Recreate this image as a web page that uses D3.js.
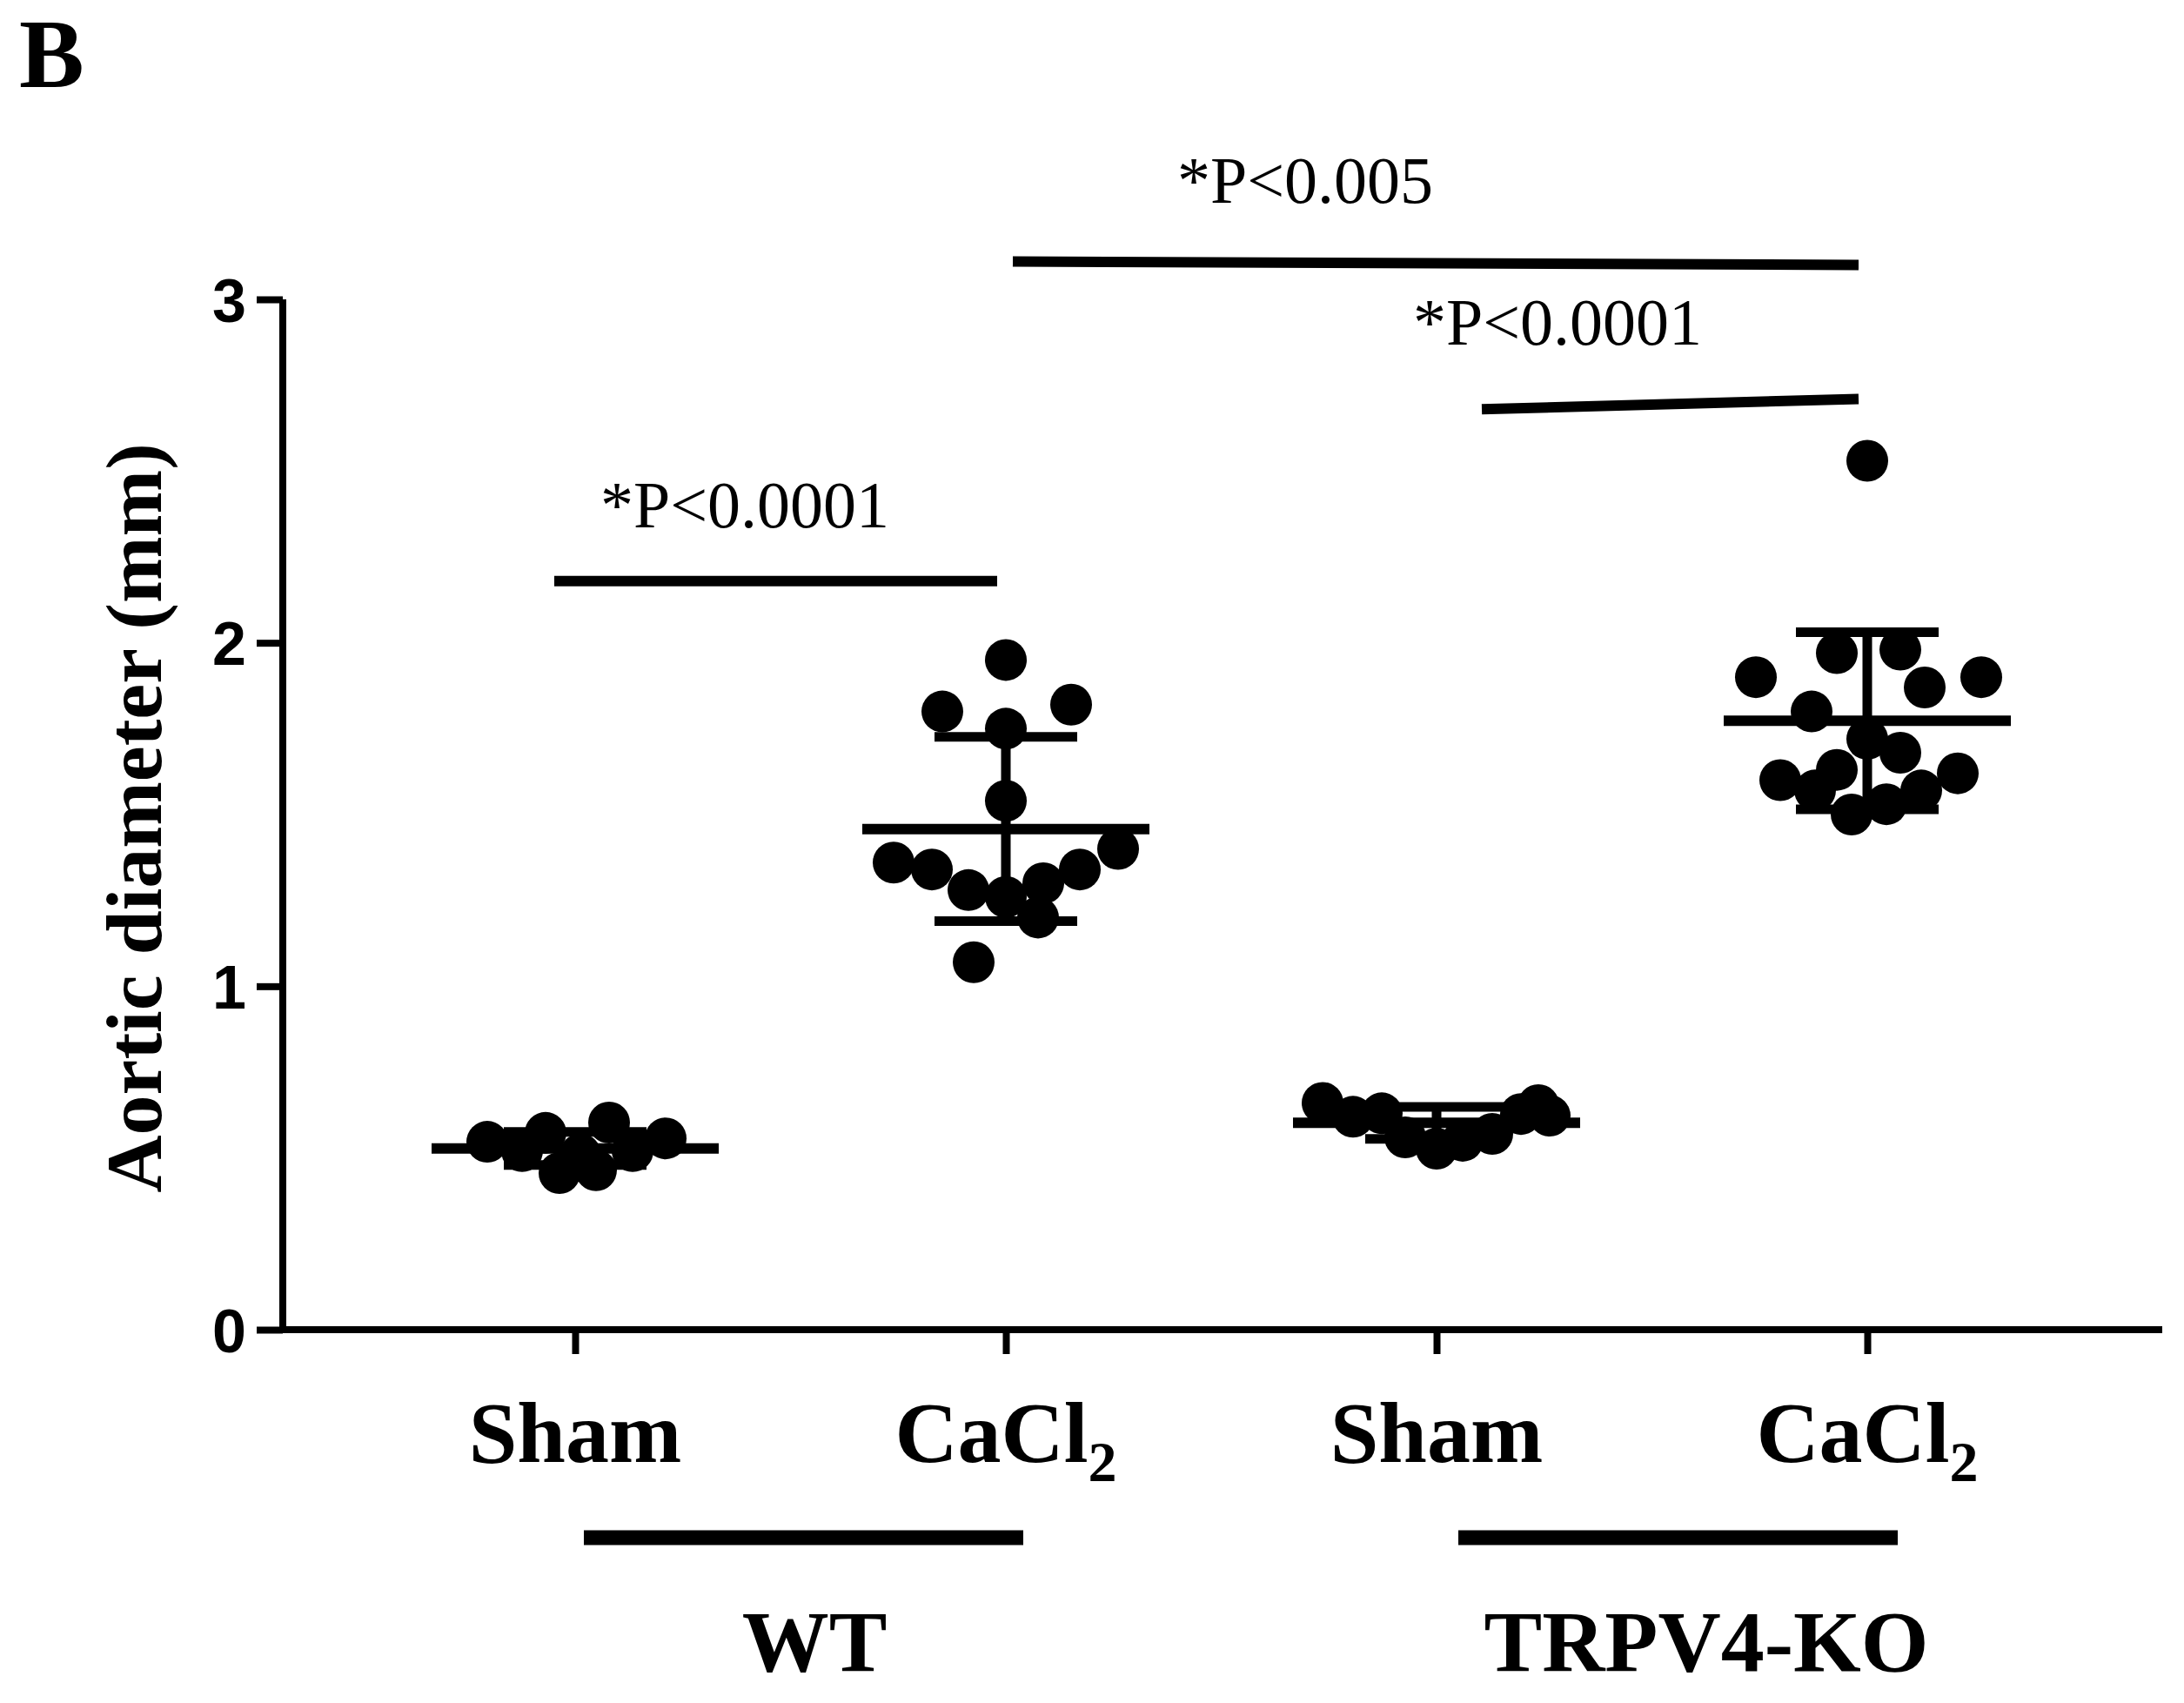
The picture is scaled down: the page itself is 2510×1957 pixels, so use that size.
<!DOCTYPE html>
<html><head><meta charset="utf-8">
<script src="https://cdn.jsdelivr.net/npm/d3@7/dist/d3.min.js"></script>
<style>body{margin:0;background:#fff}</style></head>
<body><svg id="c" width="2510" height="1957"></svg>
<script>
const categories = ["WT-Sham","WT-CaCl2","KO-Sham","KO-CaCl2"];
const catLabels = ["Sham","CaCl","Sham","CaCl"];
const catSubs = ["","2","","2"];
const groups = ["WT","TRPV4-KO"];
const wtShamValues = [0.547,0.573,0.52,0.456,0.464,0.603,0.557,0.51,0.52];
const wtShamJitter = [-101,-34,-61,-18,24,39,104,6,66];
const wtCaValues = [1.95,1.80,1.82,1.75,1.54,1.36,1.34,1.28,1.26,1.30,1.34,1.40,1.20,1.07];
const wtCaJitter = [0,-73,75,0,0,-129,-85,-43,0,43,85,129,37,-37];
const koShamValues = [0.66,0.62,0.63,0.56,0.527,0.55,0.57,0.628,0.623,0.654];
const koShamJitter = [-131,-96,-63,-36,0,30,64,97,130,117];
const koCaValues = [2.53,1.97,1.98,1.90,1.87,1.90,1.80,1.72,1.68,1.63,1.60,1.62,1.57,1.57,1.53,1.50];
const koCaJitter = [0,-35,38,-128,66,131,-64,0,38,-35,-100,104,-60,62,22,-18];
const yTicks = [0,1,2,3];
const sigs = [
  {from:0,to:1,y1:2.18,y2:2.18,label:"*P<0.0001"},
  {from:2,to:3,y1:2.68,y2:2.71,label:"*P<0.0001"},
  {from:1,to:3,y1:3.11,y2:3.10,label:"*P<0.005"}
];

const series = [
  {v:wtShamValues,j:wtShamJitter},{v:wtCaValues,j:wtCaJitter},
  {v:koShamValues,j:koShamJitter},{v:koCaValues,j:koCaJitter}];

const svg = d3.select("#c");
const y = d3.scaleLinear().domain([0,3]).range([1528,344]);
const x = d3.scalePoint().domain(categories).range([661,2146]);
const serif = "'Liberation Serif','Times New Roman',serif";
const sans = "'Liberation Sans',Arial,sans-serif";

// axes
const yAx = svg.append("g").attr("transform","translate(325,0)")
  .call(d3.axisLeft(y).tickValues(yTicks).tickFormat(d3.format("d")).tickSize(30).tickPadding(12));
yAx.select(".domain").attr("d",`M0,${y(3)}V${y(0)}`);
const xAx = svg.append("g").attr("transform",`translate(0,${y(0)})`)
  .call(d3.axisBottom(x).tickSize(28).tickFormat(""));
xAx.select(".domain").attr("d",`M321,0H2485`);
svg.selectAll(".domain").attr("stroke","#000").attr("stroke-width",8);
svg.selectAll(".tick line").attr("stroke","#000").attr("stroke-width",8);
yAx.selectAll("text").attr("font-family",sans).attr("font-weight","bold").attr("font-size",70).attr("fill","#000").attr("dy","0.36em");

// category labels
categories.forEach((c,i)=>{
  const t = svg.append("text").attr("x",x(c)).attr("y",1680).attr("text-anchor","middle")
    .attr("font-family",serif).attr("font-weight","bold").attr("font-size",100).text(catLabels[i]);
  if(catSubs[i]) t.append("tspan").attr("font-size",66).attr("dy",22).text(catSubs[i]);
});
// group bars
[[0,1],[2,3]].forEach((p,gi)=>{
  const off = gi===0 ? 10 : 25;
  const x1 = x(categories[p[0]])+off, x2 = x(categories[p[1]])+off+10;
  svg.append("line").attr("x1",x1).attr("x2",x2).attr("y1",1767).attr("y2",1767).attr("stroke","#000").attr("stroke-width",17);
  svg.append("text").attr("x",gi===0?936:1961).attr("y",1920).attr("text-anchor","middle")
    .attr("font-family",serif).attr("font-weight","bold").attr("font-size",100).text(groups[gi]);
});

// y axis title
svg.append("text").attr("transform","translate(185,940) rotate(-90)").attr("text-anchor","middle")
  .attr("font-family",serif).attr("font-weight","bold").attr("font-size",92).text("Aortic diameter (mm)");
// panel letter
svg.append("text").attr("x",22).attr("y",100).attr("font-family",serif).attr("font-weight","bold").attr("font-size",112).text("B");

// points, means, sd
series.forEach((s,i)=>{
  const cx = x(categories[i]);
  svg.append("g").selectAll("circle").data(s.v).join("circle")
    .attr("cx",(d,k)=>cx+s.j[k]).attr("cy",d=>y(d)).attr("r",24).attr("fill","#000");
  const m = d3.mean(s.v), sd = d3.deviation(s.v);
  const g = svg.append("g").attr("stroke","#000");
  g.append("line").attr("x1",cx-165).attr("x2",cx+165).attr("y1",y(m)).attr("y2",y(m)).attr("stroke-width",12);
  g.append("line").attr("x1",cx).attr("x2",cx).attr("y1",y(m+sd)).attr("y2",y(m-sd)).attr("stroke-width",11);
  [m+sd,m-sd].forEach(v=>g.append("line").attr("x1",cx-82).attr("x2",cx+82).attr("y1",y(v)).attr("y2",y(v)).attr("stroke-width",11));
});

// significance
sigs.forEach((s,i)=>{
  const xa = x(categories[s.from]) - (i===0?24:(i===1?-52:-8)), xb = x(categories[s.to]) - 10;
  svg.append("line").attr("x1",xa).attr("x2",xb).attr("y1",y(s.y1)).attr("y2",y(s.y2)).attr("stroke","#000").attr("stroke-width",12);
  svg.append("text").attr("x",i===0?856:(i===1?1790:1500)).attr("y",y(Math.max(s.y1,s.y2))-(i===2?68:62)).attr("text-anchor","middle")
    .attr("font-family",serif).attr("font-size",76).text(s.label);
});
</script></body></html>
